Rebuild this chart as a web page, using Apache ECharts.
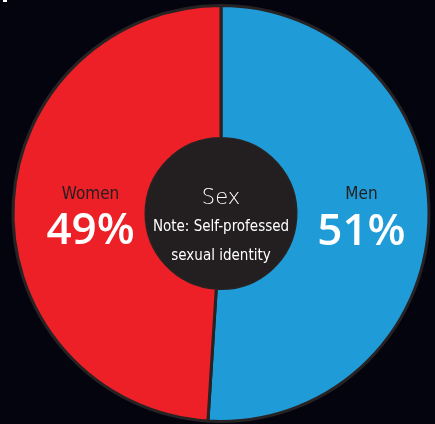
<!DOCTYPE html>
<html>
<head>
<meta charset="utf-8">
<script src="https://cdn.jsdelivr.net/npm/echarts@6/dist/echarts.min.js"></script>
<style>
html,body{margin:0;padding:0;background:#04040e;}
#c{width:435px;height:424px;}
</style>
</head>
<body>
<div id="c"></div>
<script>
const categories = ['Men', 'Women'];
const values = [51, 49];
const colors = ['#1f9bd7', '#ed1f27'];
const centerTitle = 'Sex';
const centerNote = ['Note: Self-professed', 'sexual identity'];

const narrow = "'Liberation Sans Narrow', 'DejaVu Sans Condensed', sans-serif";
const chart = echarts.init(document.getElementById('c'));
chart.setOption({
  backgroundColor: '#04040e',
  animation: false,
  graphic: [{type: 'rect', shape: {x: 3, y: 0, width: 4, height: 2}, style: {fill: '#ffffff'}}],
  series: [
    {
      type: 'pie',
      center: [221, 213.5],
      radius: [75, 208],
      startAngle: 90,
      clockwise: true,
      silent: true,
      data: categories.map((c, i) => ({name: c, value: values[i], itemStyle: {color: colors[i]}})),
      itemStyle: {borderColor: '#272324', borderWidth: 3},
      label: {
        show: true,
        position: 'inside',
        formatter: '{n|{b}}\n{v|{c}%}',
        rich: {
          n: {fontFamily: narrow, fontSize: 17, color: '#231f20', lineHeight: 24, align: 'center'},
          v: {fontFamily: "'Open Sans', sans-serif", fontWeight: 600, fontSize: 44, color: '#ffffff', lineHeight: 50, align: 'center'}
        }
      },
      labelLine: {show: false},
      labelLayout: function (p) {
        return p.dataIndex === 0 ? {dx: -4, dy: 2} : {dx: 14, dy: 11};
      }
    },
    {
      type: 'pie',
      center: [221, 213.5],
      radius: [0, 75],
      silent: true,
      data: [{name: centerTitle, value: 1, itemStyle: {color: '#231f20'}}],
      label: {
        show: true,
        position: 'center',
        padding: [28, 0, 0, 0],
        formatter: '{t|' + centerTitle + '}\n{s|' + centerNote[0] + '}\n{s|' + centerNote[1] + '}',
        rich: {
          t: {fontFamily: "'DejaVu Sans', sans-serif", fontWeight: 200, fontSize: 21, color: '#ffffff', lineHeight: 29, align: 'center'},
          s: {fontFamily: narrow, fontSize: 15, color: '#ffffff', lineHeight: 29, align: 'center'}
        }
      },
      labelLine: {show: false}
    }
  ]
});
</script>
</body>
</html>
